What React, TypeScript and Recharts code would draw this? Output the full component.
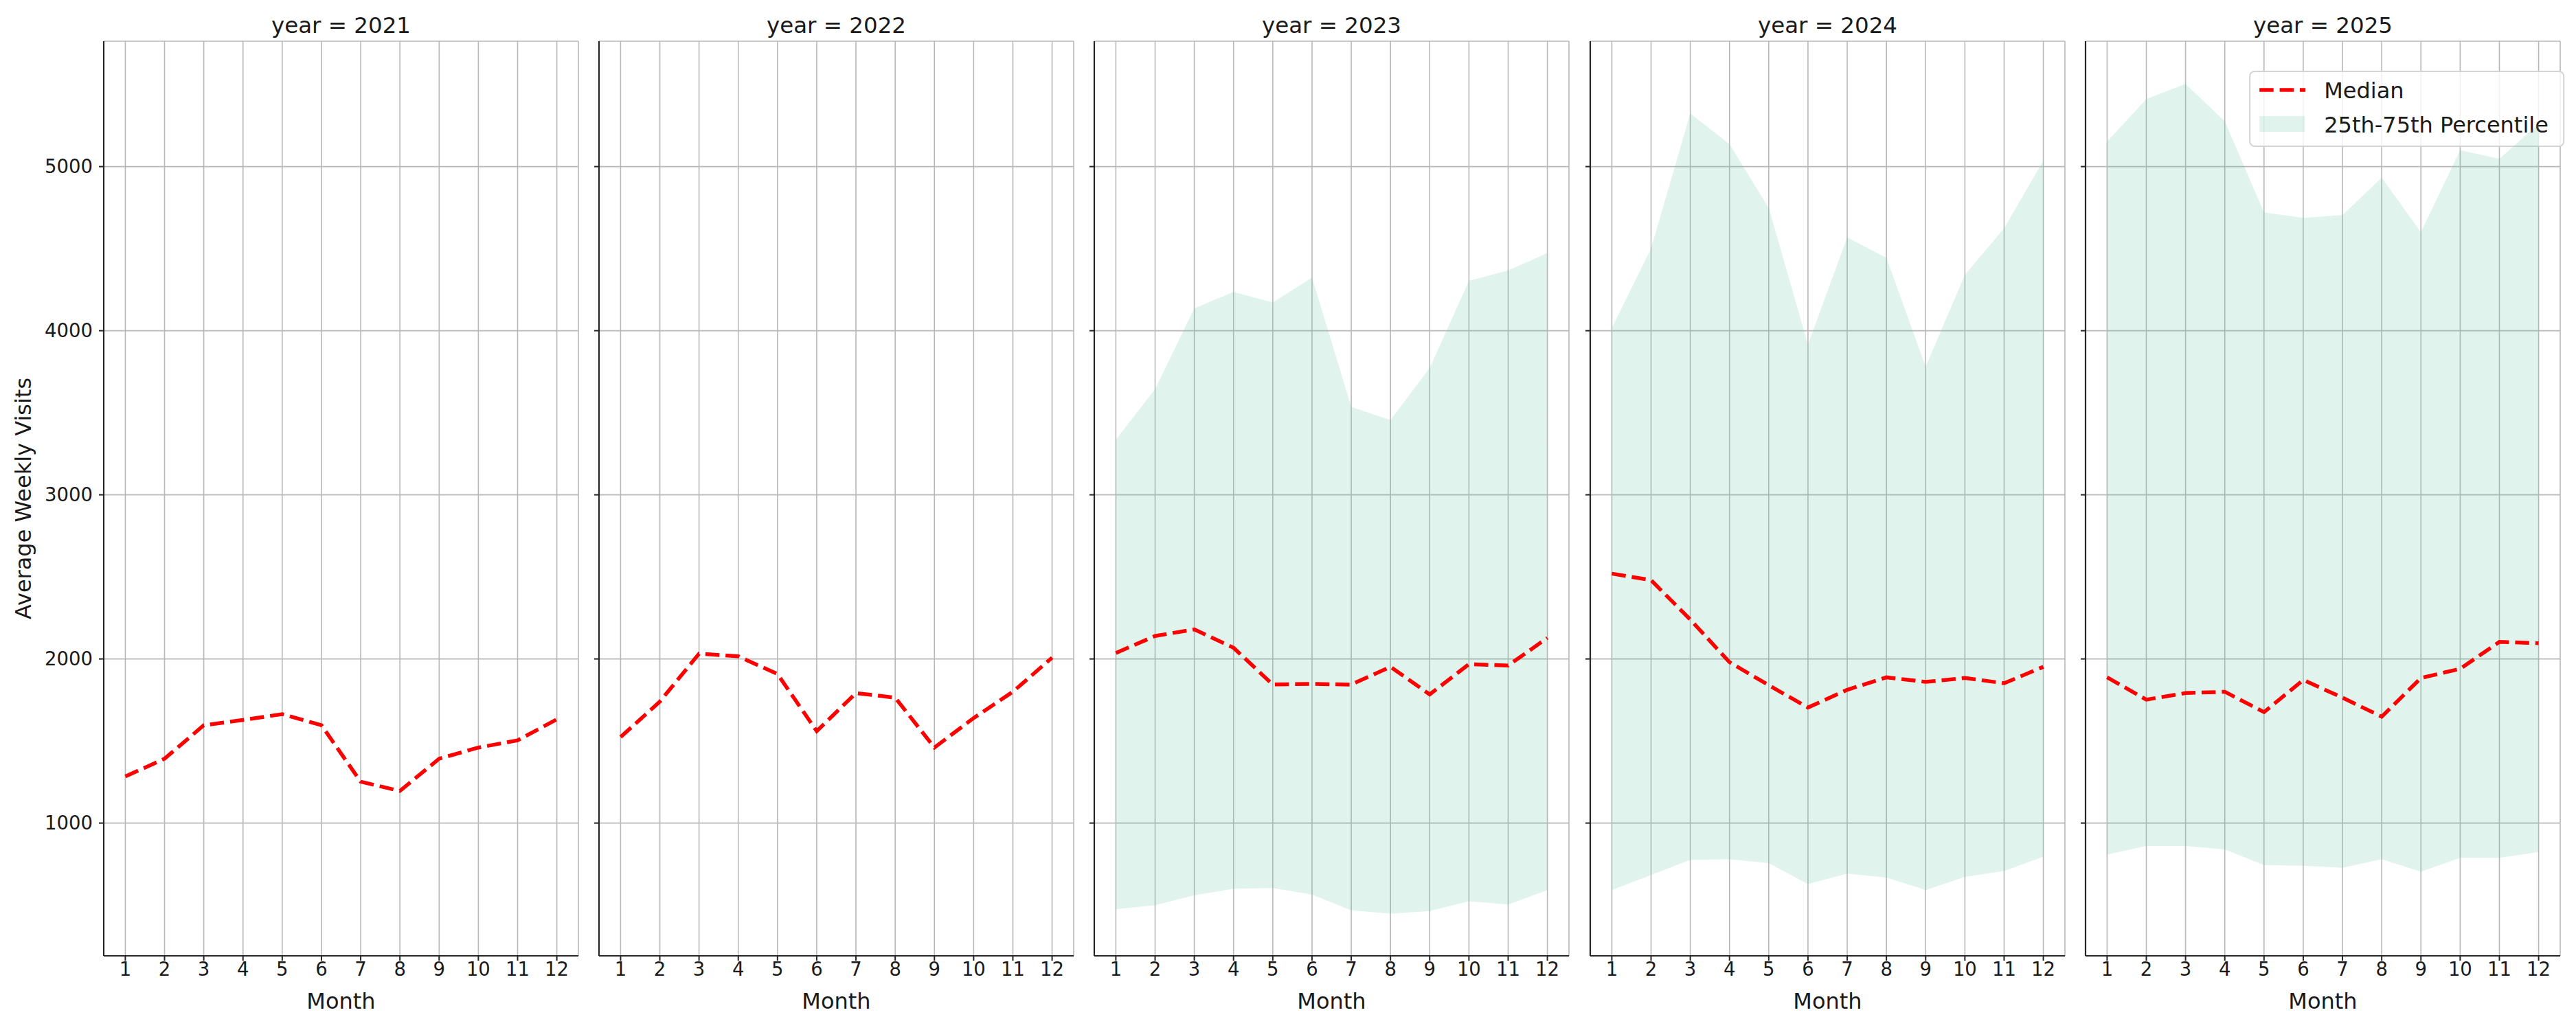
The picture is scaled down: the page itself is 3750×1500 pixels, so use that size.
import React from "react";
import {
  ComposedChart,
  Line,
  Area,
  XAxis,
  YAxis,
  CartesianGrid,
  Customized,
} from "recharts";

// ---------- data ----------
const months = [1, 2, 3, 4, 5, 6, 7, 8, 9, 10, 11, 12];
const years = [2021, 2022, 2023, 2024, 2025];
const yTicks = [1000, 2000, 3000, 4000, 5000];

const median2021 = [1284, 1392, 1596, 1628, 1664, 1596, 1252, 1196, 1392, 1460, 1504, 1632];
const median2022 = [1524, 1740, 2032, 2016, 1908, 1560, 1792, 1764, 1460, 1640, 1800, 2008];
const median2023 = [2036, 2140, 2180, 2068, 1844, 1848, 1844, 1952, 1784, 1968, 1960, 2128];
const p25_2023 = [476, 500, 560, 600, 604, 564, 468, 448, 464, 524, 504, 592];
const p75_2023 = [3336, 3644, 4136, 4236, 4172, 4324, 3536, 3456, 3772, 4304, 4368, 4472];
const median2024 = [2520, 2480, 2240, 1980, 1840, 1704, 1812, 1888, 1860, 1884, 1852, 1952];
const p25_2024 = [592, 684, 776, 780, 756, 628, 692, 668, 592, 672, 708, 796];
const p75_2024 = [4016, 4500, 5324, 5136, 4748, 3916, 4568, 4444, 3780, 4340, 4624, 5036];
const median2025 = [1888, 1752, 1792, 1800, 1676, 1872, 1764, 1648, 1884, 1940, 2104, 2096];
const p25_2025 = [808, 860, 860, 840, 744, 740, 728, 780, 704, 788, 788, 824];
const p75_2025 = [5152, 5412, 5504, 5276, 4720, 4688, 4704, 4932, 4600, 5100, 5048, 5260];

const medians = [median2021, median2022, median2023, median2024, median2025];
const p25s = [null, null, p25_2023, p25_2024, p25_2025];
const p75s = [null, null, p75_2023, p75_2024, p75_2025];

// ---------- layout ----------
const FONT = "'DejaVu Sans', sans-serif";
const H = 1500;
const PLOT_TOP = 60;
const PLOT_BOTTOM = 1392;
const PANEL_W = 691;
const FIRST_LEFT = 151;
const PANEL_STEP = 721.2;
const RIGHT_M = 10;
const X_AXIS_H = 60;
const TEXT = "#1a1a1a";
const SPINE = "#262626";
const GRID = "#b8b8b8";
const BAND = "#66c2a5";

function buildData(i: number) {
  return months.map((m, k) => {
    const row: any = { month: m, median: medians[i][k] };
    const lo = p25s[i];
    const hi = p75s[i];
    if (lo && hi) row.band = [lo[k], hi[k]];
    return row;
  });
}

function Panel({ idx }: { idx: number }) {
  const first = idx === 0;
  const last = idx === years.length - 1;
  const yW = first ? FIRST_LEFT : 30;
  const plotLeft = FIRST_LEFT + PANEL_STEP * idx;
  const divLeft = plotLeft - yW;
  const width = yW + PANEL_W + RIGHT_M;
  const data = buildData(idx);
  const hasBand = !!p25s[idx];
  const cx = yW + PANEL_W / 2;

  const overlay = () => (
    <g>
      <text
        x={cx}
        y={48}
        textAnchor="middle"
        fontFamily={FONT}
        fontSize={32.5}
        fill={TEXT}
      >
        {`year = ${years[idx]}`}
      </text>
      <text
        x={cx}
        y={1469}
        textAnchor="middle"
        fontFamily={FONT}
        fontSize={32}
        fill={TEXT}
      >
        Month
      </text>
      {first && (
        <text
          x={45}
          y={726}
          transform="rotate(-90 45 726)"
          textAnchor="middle"
          fontFamily={FONT}
          fontSize={32}
          fill={TEXT}
        >
          Average Weekly Visits
        </text>
      )}
      {last && (
        <g transform={`translate(${-divLeft},0)`}>
          <rect
            x={3275}
            y={104}
            width={457}
            height={109}
            rx={7}
            ry={7}
            fill="#ffffff"
            fillOpacity={0.8}
            stroke="#d4d4d4"
            strokeWidth={2}
          />
          <line
            x1={3289}
            y1={131}
            x2={3356}
            y2={131}
            stroke="#ff0000"
            strokeWidth={5.5}
            strokeDasharray="20.5 8.9"
          />
          <text x={3383} y={143} fontFamily={FONT} fontSize={32} fill={TEXT}>
            Median
          </text>
          <rect x={3289} y={169} width={66} height={23} fill={BAND} fillOpacity={0.2} />
          <text x={3383} y={193} fontFamily={FONT} fontSize={32} fill={TEXT}>
            25th-75th Percentile
          </text>
        </g>
      )}
    </g>
  );

  return (
    <div style={{ position: "absolute", left: divLeft, top: 0, width, height: H }}>
      <ComposedChart
        width={width}
        height={H}
        data={data}
        margin={{ top: PLOT_TOP, right: RIGHT_M, bottom: H - PLOT_BOTTOM - X_AXIS_H, left: 0 }}
      >
        <CartesianGrid stroke={GRID} strokeWidth={1.6} />
        <XAxis
          dataKey="month"
          type="number"
          domain={[0.45, 12.55]}
          ticks={months}
          interval={0}
          allowDataOverflow
          height={X_AXIS_H}
          tickSize={7}
          tickMargin={2}
          tick={{ fontSize: 27.5, fill: TEXT, fontFamily: FONT }}
          axisLine={{ stroke: SPINE, strokeWidth: 2.2 }}
          tickLine={{ stroke: SPINE, strokeWidth: 2 }}
        />
        <YAxis
          type="number"
          domain={[191, 5764]}
          ticks={yTicks}
          interval={0}
          allowDataOverflow
          width={yW}
          tickSize={7}
          tickMargin={9}
          tick={
            first
              ? { fontSize: 27.5, fill: TEXT, fontFamily: FONT }
              : () => <g />
          }
          axisLine={{ stroke: SPINE, strokeWidth: 2.2 }}
          tickLine={{ stroke: SPINE, strokeWidth: 2 }}
        />
        {hasBand && (
          <Area
            dataKey="band"
            type="linear"
            stroke="none"
            fill={BAND}
            fillOpacity={0.2}
            isAnimationActive={false}
            activeDot={false}
            dot={false}
          />
        )}
        <Line
          dataKey="median"
          type="linear"
          stroke="#ff0000"
          strokeWidth={5.5}
          strokeDasharray="20.5 8.9"
          dot={false}
          activeDot={false}
          isAnimationActive={false}
        />
        <Customized component={overlay} />
      </ComposedChart>
    </div>
  );
}

export default function App() {
  return (
    <div
      style={{
        position: "absolute",
        left: 0,
        top: 0,
        width: 3750,
        height: H,
        background: "#ffffff",
      }}
    >
      {years.map((y, i) => (
        <Panel key={y} idx={i} />
      ))}
    </div>
  );
}
